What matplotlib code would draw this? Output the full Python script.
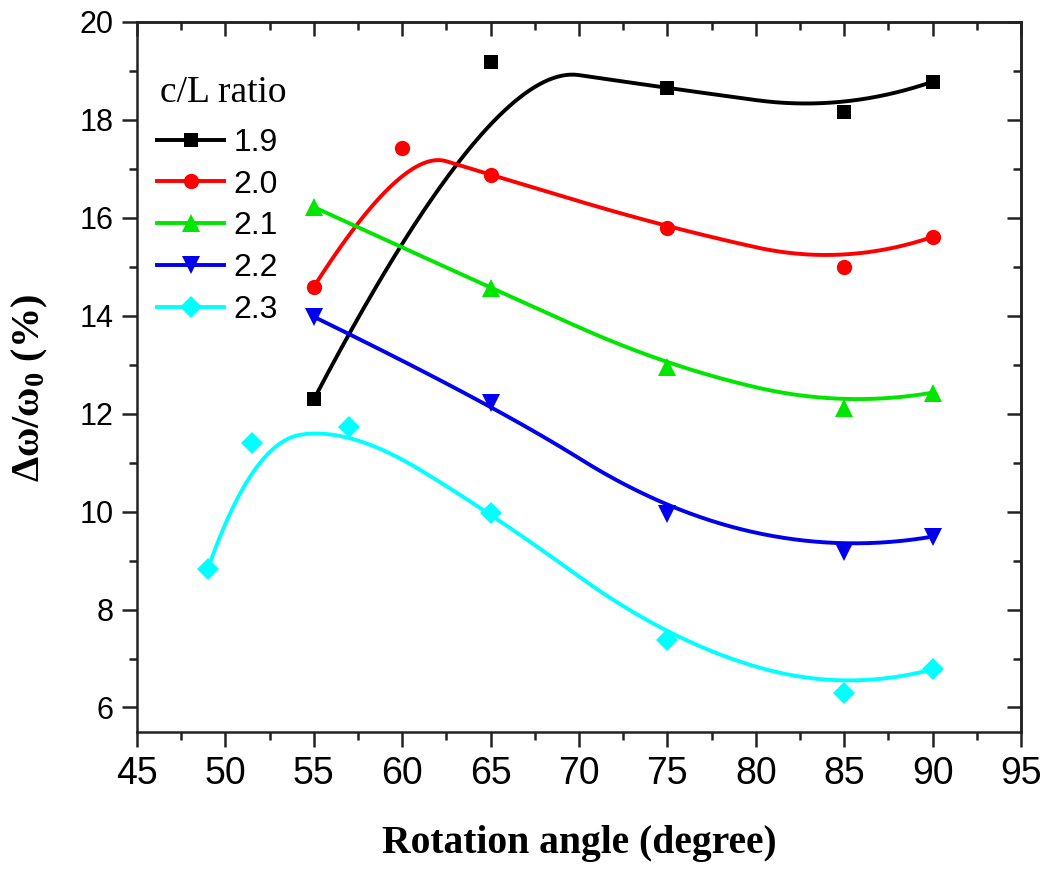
import numpy as np
import matplotlib
matplotlib.use("Agg")
import matplotlib.pyplot as plt
from matplotlib.pyplot import MultipleLocator
from matplotlib.lines import Line2D

plt.rcParams['font.family'] = 'Liberation Sans'
plt.rcParams['mathtext.fontset'] = 'custom'
plt.rcParams['mathtext.rm'] = 'Liberation Serif:bold'
plt.rcParams['mathtext.bf'] = 'Liberation Serif:bold'
plt.rcParams['mathtext.it'] = 'Liberation Serif:bold'

# ================= data ========================================
labels = ["1.9", "2.0", "2.1", "2.2", "2.3"]
colors = ["black", "red", "#00e600", "#0000ee", "#00ffff"]
markers = ["s", "o", "^", "v", "D"]
msizes = [10, 11, 13, 13, 11]

x_19 = [55, 65, 75, 85, 90]
y_19 = [12.29, 19.18, 18.65, 18.16, 18.78]

x_20 = [55, 60, 65, 75, 85, 90]
y_20 = [14.59, 17.43, 16.88, 15.80, 15.00, 15.61]

x_21 = [55, 65, 75, 85, 90]
y_21 = [16.22, 14.57, 12.96, 12.12, 12.43]

x_22 = [55, 65, 75, 85, 90]
y_22 = [13.98, 12.22, 9.96, 9.18, 9.49]

x_23 = [49, 51.5, 57, 65, 75, 85, 90]
y_23 = [8.82, 11.41, 11.73, 9.98, 7.37, 6.30, 6.78]

xs = [x_19, x_20, x_21, x_22, x_23]
ys = [y_19, y_20, y_21, y_22, y_23]


# clamped B-spline with the data points as control points (Origin "B-spline" connect)
def bspline(px, py, k=2, num=400):
    px = np.asarray(px, float)
    py = np.asarray(py, float)
    n = len(px)
    k = min(k, n - 1)
    t = np.concatenate([np.zeros(k + 1), np.arange(1, n - k), np.full(k + 1, n - k)])
    u = np.linspace(0, (n - k) - 1e-9, num)
    B = np.zeros((num, len(t) - 1))
    for i in range(len(t) - 1):
        B[:, i] = (t[i] <= u) & (u < t[i + 1])
    for d in range(1, k + 1):
        Bn = np.zeros((num, len(t) - 1 - d))
        for i in range(len(t) - 1 - d):
            a = t[i + d] - t[i]
            b = t[i + d + 1] - t[i + 1]
            left = (u - t[i]) / a * B[:, i] if a > 0 else 0
            right = (t[i + d + 1] - u) / b * B[:, i + 1] if b > 0 else 0
            Bn[:, i] = left + right
        B = Bn
    return B @ px, B @ py


fig = plt.figure(figsize=(10.49, 8.69), dpi=100)
ax = fig.add_axes([0.1306, 0.1577, 0.8427, 0.8170])

for x, y, c, m, ms in zip(xs, ys, colors, markers, msizes):
    sx, sy = bspline(x, y)
    ax.plot(sx, sy, '-', color=c, lw=2.8, zorder=2)
    ax.plot(x, y, m, color=c, markersize=ms, markeredgewidth=0, zorder=3)

# ==============================================================================================
#                                      plotting set up
# ==============================================================================================
ax.set_xlim(45, 95)
ax.set_ylim(5.5, 20)

ax.xaxis.set_major_locator(MultipleLocator(5))
ax.xaxis.set_minor_locator(MultipleLocator(2.5))
ax.yaxis.set_major_locator(MultipleLocator(2))
ax.yaxis.set_minor_locator(MultipleLocator(1))

ax.tick_params(which='major', direction='out', length=11, width=1.8, color='#222222')
ax.tick_params(which='minor', direction='out', length=6, width=1.8, color='#222222')
ax.tick_params(axis='x', labelsize=27, pad=6)
ax.tick_params(axis='y', labelsize=22, pad=6)
for sp in ax.spines.values():
    sp.set_linewidth(1.8)
    sp.set_color('#222222')

# top and right: inward ticks, no labels
top = ax.secondary_xaxis('top')
top.xaxis.set_major_locator(MultipleLocator(5))
top.xaxis.set_minor_locator(MultipleLocator(2.5))
top.tick_params(which='major', direction='in', length=10, width=1.8, color='#222222', labeltop=False)
top.tick_params(which='minor', direction='in', length=6, width=1.8, color='#222222')
right = ax.secondary_yaxis('right')
right.yaxis.set_major_locator(MultipleLocator(2))
right.yaxis.set_minor_locator(MultipleLocator(1))
right.tick_params(which='major', direction='in', length=10, width=1.8, color='#222222', labelright=False)
right.tick_params(which='minor', direction='in', length=6, width=1.8, color='#222222')
for s in (top, right):
    for sp in s.spines.values():
        sp.set_linewidth(1.8)
        sp.set_color('#222222')

ax.set_xlabel('Rotation angle (degree)', family='Liberation Serif', weight='bold', size=28.5, labelpad=24)
ax.set_ylabel(r'Δω/ω$_{0}$ (%)', family='Liberation Serif', weight='bold', size=29)
ax.yaxis.set_label_coords(-0.098, 0.484)

# legend title as separate text, legend entries below it
ax.text(0.026, 0.901, 'c/L ratio', transform=ax.transAxes, family='Liberation Serif',
        size=27, va='center', ha='left')
handles = [Line2D([], [], color=c, marker=m, markersize=ms, markeredgewidth=0, lw=2.8)
           for c, m, ms in zip(colors, markers, msizes)]
leg = ax.legend(handles, labels, loc='upper left', frameon=False,
                bbox_to_anchor=(-0.0097, 0.8915), fontsize=23, handlelength=2.1,
                handletextpad=0.3, labelspacing=0.37)

plt.savefig("out.png", dpi=100)
